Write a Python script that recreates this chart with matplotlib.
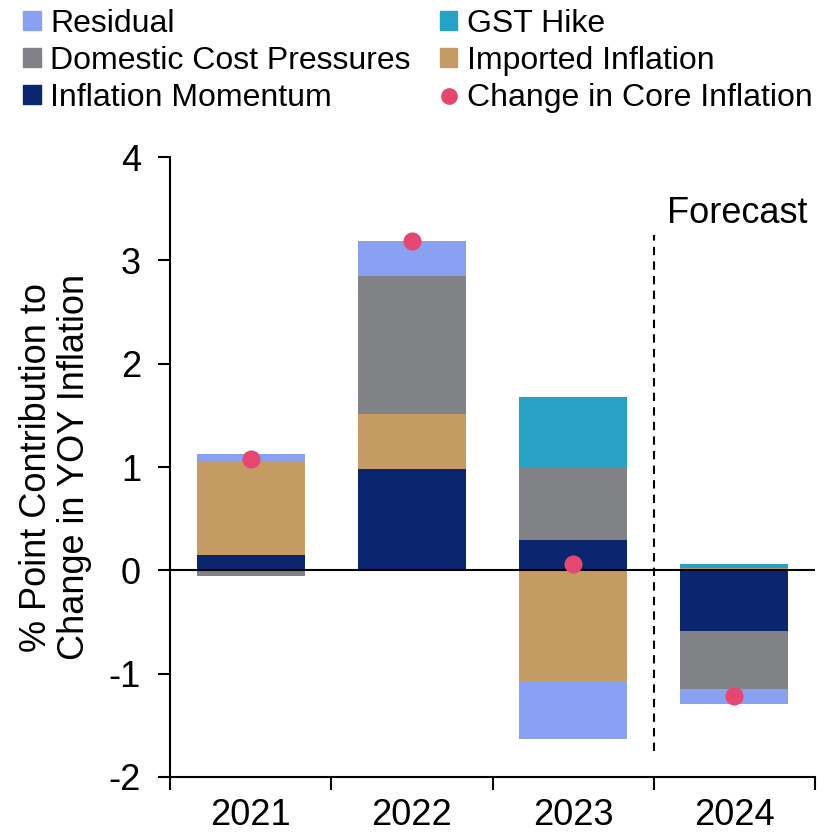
import numpy as np
import matplotlib.pyplot as plt
from matplotlib.patches import Patch
from matplotlib.lines import Line2D

plt.rcParams['font.family'] = ['Liberation Sans', 'DejaVu Sans']

years = ['2021', '2022', '2023', '2024']
momentum = [0.15, 0.98, 0.29, -0.59]
imported = [0.90, 0.53, -1.07, 0.02]
domestic = [-0.05, 1.34, 0.71, -0.56]
gst = [0.0, 0.0, 0.68, 0.04]
residual = [0.08, 0.34, -0.56, -0.14]
core_change = [1.08, 3.19, 0.06, -1.22]

series = [
    ('Inflation Momentum', momentum, '#0b256e'),
    ('Imported Inflation', imported, '#c39b63'),
    ('Domestic Cost Pressures', domestic, '#808285'),
    ('GST Hike', gst, '#27a1c6'),
    ('Residual', residual, '#8aa1f3'),
]

fig = plt.figure(figsize=(8.3, 8.38), dpi=100)
ax = fig.add_axes([0.205, 0.0728, 0.777, 0.7398])

x = np.arange(len(years))
pos_base = np.zeros(len(years))
neg_base = np.zeros(len(years))
for name, vals, col in series:
    vals = np.array(vals)
    base = np.where(vals >= 0, pos_base, neg_base)
    ax.bar(x, vals, width=0.67, bottom=base, color=col, edgecolor='none', zorder=2)
    pos_base = pos_base + np.where(vals >= 0, vals, 0)
    neg_base = neg_base + np.where(vals < 0, vals, 0)

ax.scatter(x, core_change, s=170, color='#e6466f', zorder=4, linewidths=0)

ax.axhline(0, color='black', lw=1.5, zorder=3)
ax.plot([2.5, 2.5], [-1.75, 3.25], color='black', lw=1.5, ls=(0, (4, 3)), zorder=3)
ax.text(2.58, 3.45, 'Forecast', fontsize=26, ha='left', va='center')

ax.set_xlim(-0.5, 3.5)
ax.set_ylim(-2, 4)
ax.set_yticks([-2, -1, 0, 1, 2, 3, 4])
ax.set_yticklabels(['-2', '-1', '0', '1', '2', '3', '4'], fontsize=26)
ax.set_xticks(x)
ax.set_xticklabels(years, fontsize=26)
ax.set_xticks(np.arange(-0.5, 4.0, 1.0), minor=True)
ax.tick_params(axis='x', which='major', length=0, pad=15)
ax.tick_params(axis='x', which='minor', length=9, width=1.5, direction='out')
ax.tick_params(axis='y', length=9, width=1.5, direction='out', pad=12)

for s in ['top', 'right']:
    ax.spines[s].set_visible(False)
ax.spines['left'].set_linewidth(1.5)
ax.spines['bottom'].set_linewidth(1.5)

ax.set_ylabel('% Point Contribution to\nChange in YOY Inflation', fontsize=26, labelpad=12,
              linespacing=1.1)

handles = [
    Patch(color='#8aa1f3', label='Residual'),
    Patch(color='#808285', label='Domestic Cost Pressures'),
    Patch(color='#0b256e', label='Inflation Momentum'),
    Patch(color='#27a1c6', label='GST Hike'),
    Patch(color='#c39b63', label='Imported Inflation'),
    Line2D([], [], marker='o', ls='none', color='#e6466f', markersize=11, label='Change in Core Inflation'),
]
fig.legend(handles=handles, ncol=2, loc='upper left', bbox_to_anchor=(0.005, 1.012),
           frameon=False, fontsize=23, handlelength=0.55, handleheight=0.55,
           handletextpad=0.3, columnspacing=0.9, labelspacing=0.22, borderaxespad=0.2)

fig.savefig('out.png', dpi=100)
